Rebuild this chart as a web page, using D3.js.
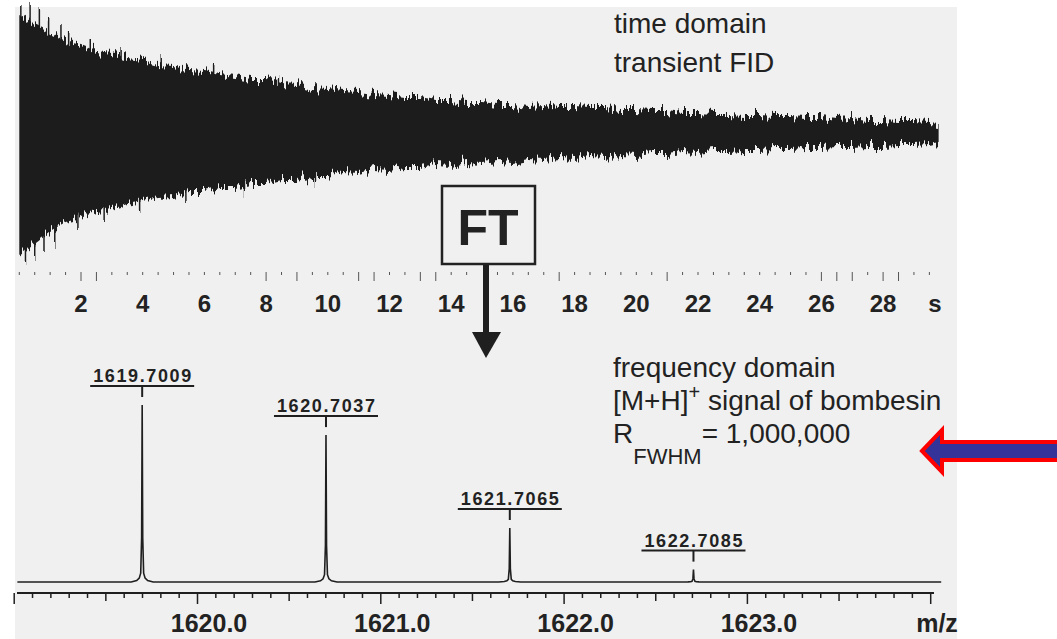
<!DOCTYPE html>
<html>
<head>
<meta charset="utf-8">
<script src="https://d3js.org/d3.v7.min.js"></script>
<style>
    body { margin: 0; background: #ffffff; }
    svg text { font-family: "Liberation Sans", Arial, sans-serif; fill: #222; }
</style>
</head>
<body>
<script>
    // ---- time domain transient (FID), envelope read every 0.5 s ----
    var fidTime = [0, 0.5, 1, 1.5, 2, 2.5, 3, 3.5, 4, 4.5, 5, 5.5, 6, 6.5, 7, 7.5, 8, 8.5, 9, 9.5,
        10, 10.5, 11, 11.5, 12, 12.5, 13, 13.5, 14, 14.5, 15, 15.5, 16, 16.5, 17, 17.5, 18, 18.5, 19, 19.5,
        20, 20.5, 21, 21.5, 22, 22.5, 23, 23.5, 24, 24.5, 25, 25.5, 26, 26.5, 27, 27.5, 28, 28.5, 29, 29.5, 29.8];
    var fidUpper = [118, 108, 100, 92, 88, 82, 80, 75, 73, 69, 68, 63, 62, 59, 57, 54, 54, 50, 49, 45,
        44, 42, 41, 39, 38, 36, 36, 33, 33, 31, 31, 29, 29, 27, 28, 26, 26, 25, 25, 23,
        23, 22, 22, 20, 20, 19, 19, 18, 18, 17, 17, 16, 16, 14, 15, 13, 13, 12, 12, 11, 10];
    var fidLower = [-122, -110, -98, -89, -85, -78, -76, -71, -68, -64, -63, -59, -59, -55, -55, -51, -51, -47, -47, -43,
        -43, -39, -40, -36, -37, -34, -34, -31, -32, -29, -30, -28, -29, -26, -27, -25, -26, -24, -25, -22,
        -23, -21, -21, -19, -20, -18, -18, -17, -17, -16, -16, -15, -15, -14, -14, -13, -13, -12, -12, -11, -9];
    // individual spikes sticking out of the envelope
    var spikeTime = [0.05, 0.2, 0.35, 0.5, 0.65, 0.8, 0.95, 1.15, 1.35, 1.6, 1.9, 2.3, 2.75, 3.3, 3.9, 4.6,
        5.4, 6.3, 7.3, 8.4, 9.6];
    var spikeAmp = [128, -130, 127, -124, 124, -118, 116, -112, 108, 104, -100, 94, -90, 86, -80, 76,
        -70, 68, -62, 58, -53];
    var timeLabels = [2, 4, 6, 8, 10, 12, 14, 16, 18, 20, 22, 24, 26, 28];
    var timeMinor = [0, 0.5, 1, 1.5, 2, 2.5, 3, 3.5, 4, 4.5, 5, 5.5, 6, 6.5, 7, 7.5, 8, 8.5, 9, 9.5,
        10, 10.5, 11, 11.5, 12, 12.5, 13, 13.5, 14, 14.5, 15.5, 16, 16.5, 17, 17.5, 18, 18.5, 19, 19.5,
        20, 20.5, 21, 21.5, 22, 22.5, 23, 23.5, 24, 24.5, 25, 25.5, 26, 26.5, 27, 27.5, 28, 28.5, 29, 29.5];
    var timeLong = [2, 2.5, 8, 9, 11, 11.5, 13, 13.5, 17.5, 21, 26, 26.5, 27, 28, 28.5];

    // ---- frequency domain: [M+H]+ isotope peaks ----
    var peakMz = [1619.7009, 1620.7037, 1621.7065, 1622.7085];
    var peakLabels = ["1619.7009", "1620.7037", "1621.7065", "1622.7085"];
    var peakHeight = [100, 83, 30.5, 7];
    // shape of one peak (offset in m/z, fraction of height)
    var profileOffset = [-0.06, -0.03, -0.016, -0.008, -0.003, 0, 0.003, 0.008, 0.016, 0.03, 0.06];
    var profileFrac = [0, 0.008, 0.022, 0.05, 0.25, 1, 0.25, 0.05, 0.022, 0.008, 0];
    var mzLabels = [1620, 1621, 1622, 1623];

    var width = 1057, height = 639;
    var svg = d3.select("body").append("svg")
        .attr("width", width)
        .attr("height", height);

    // texture filter: roughens the edge of the envelope like the dense oscillation
    var defs = svg.append("defs");
    var flt = defs.append("filter").attr("id", "rough")
        .attr("x", "-2%").attr("y", "-10%").attr("width", "104%").attr("height", "120%");
    flt.append("feTurbulence")
        .attr("type", "fractalNoise")
        .attr("baseFrequency", "0.45 0.004")
        .attr("numOctaves", 2)
        .attr("seed", 7)
        .attr("result", "noise");
    flt.append("feColorMatrix")
        .attr("in", "noise")
        .attr("type", "matrix")
        .attr("values", "0 0 0 0 0.5  0 1 0 0 0  0 0 0 0 0  0 0 0 0 1")
        .attr("result", "noiseY");
    flt.append("feDisplacementMap")
        .attr("in", "SourceGraphic")
        .attr("in2", "noiseY")
        .attr("scale", 22)
        .attr("xChannelSelector", "R")
        .attr("yChannelSelector", "G");

    // grey panel
    svg.append("rect")
        .attr("x", 15).attr("y", 7)
        .attr("width", 942).attr("height", 632)
        .attr("fill", "#f0f0f0");

    // ---------- top: FID ----------
    var xTime = d3.scaleLinear().domain([0, 30]).range([19.3, 944.8]);
    var yFid = d3.scaleLinear().domain([-130, 130]).range([263, 3]);

    var fidData = fidTime.map((t, i) => ({ t: t, hi: fidUpper[i], lo: fidLower[i] }));
    var area = d3.area()
        .x(d => xTime(d.t))
        .y0(d => yFid(d.lo))
        .y1(d => yFid(d.hi));

    var fid = svg.append("g").attr("filter", "url(#rough)");
    fid.append("path")
        .datum(fidData)
        .attr("d", area)
        .attr("fill", "#1f1f1f");

    fid.append("g")
        .selectAll("line")
        .data(spikeTime.map((t, i) => ({ t: t, a: spikeAmp[i] })))
        .join("line")
        .attr("x1", d => xTime(d.t)).attr("x2", d => xTime(d.t))
        .attr("y1", yFid(0))
        .attr("y2", d => yFid(d.a))
        .attr("stroke", "#1f1f1f")
        .attr("stroke-width", 1.5);

    // time axis ticks (no axis line in the original)
    svg.append("g")
        .selectAll("line")
        .data(timeMinor)
        .join("line")
        .attr("x1", d => xTime(d)).attr("x2", d => xTime(d))
        .attr("y1", 272)
        .attr("y2", d => timeLong.indexOf(d) >= 0 ? 281 : 275)
        .attr("stroke", "#555")
        .attr("stroke-width", 1);

    svg.append("g")
        .selectAll("text")
        .data(timeLabels)
        .join("text")
        .attr("x", d => xTime(d))
        .attr("y", 312)
        .attr("text-anchor", "middle")
        .attr("font-size", 24)
        .attr("font-weight", "bold")
        .text(d => d);

    svg.append("text")
        .attr("x", 935).attr("y", 312)
        .attr("text-anchor", "middle")
        .attr("font-size", 24)
        .attr("font-weight", "bold")
        .text("s");

    svg.append("text").attr("x", 614).attr("y", 33)
        .attr("font-size", 28).text("time domain");
    svg.append("text").attr("x", 614).attr("y", 72)
        .attr("font-size", 28).text("transient FID");

    // FT box and arrow
    svg.append("rect")
        .attr("x", 442).attr("y", 186)
        .attr("width", 93).attr("height", 78)
        .attr("fill", "#f0f0f0")
        .attr("stroke", "#222")
        .attr("stroke-width", 2.5);
    svg.append("text")
        .attr("x", 488).attr("y", 245)
        .attr("text-anchor", "middle")
        .attr("font-size", 50)
        .attr("font-weight", "bold")
        .text("FT");
    svg.append("line")
        .attr("x1", 486).attr("x2", 486)
        .attr("y1", 265).attr("y2", 334)
        .attr("stroke", "#1f1f1f")
        .attr("stroke-width", 6);
    svg.append("path")
        .attr("d", "M472,332 L501,332 L486,358 Z")
        .attr("fill", "#1f1f1f");

    // ---------- bottom: mass spectrum ----------
    var xMz = d3.scaleLinear().domain([1619, 1624]).range([13.7, 930.2]);
    var yInt = d3.scaleLinear().domain([0, 100]).range([582, 405]);

    var spec = [{ mz: 1619.02, v: 0 }];
    peakMz.forEach((m, i) => {
        profileOffset.forEach((o, j) => spec.push({ mz: m + o, v: peakHeight[i] * profileFrac[j] }));
    });
    spec.push({ mz: 1624.06, v: 0 });

    svg.append("path")
        .datum(spec)
        .attr("d", d3.line().x(d => xMz(d.mz)).y(d => yInt(d.v)))
        .attr("fill", "none")
        .attr("stroke", "#1f1f1f")
        .attr("stroke-width", 1.6);

    // peak labels with underline and marker
    var lab = svg.append("g")
        .selectAll("g")
        .data(peakMz.map((m, i) => ({ mz: m, h: peakHeight[i], label: peakLabels[i] })))
        .join("g");
    lab.append("text")
        .attr("x", d => xMz(d.mz) - 49)
        .attr("y", d => yInt(d.h) - 23)
        .attr("font-family", "'DejaVu Sans Condensed', 'DejaVu Sans', sans-serif")
        .attr("font-weight", "bold")
        .attr("font-size", 18)
        .attr("textLength", 98)
        .attr("lengthAdjust", "spacing")
        .text(d => d.label);
    lab.append("line")
        .attr("x1", d => xMz(d.mz) - 52)
        .attr("x2", d => xMz(d.mz) + 52)
        .attr("y1", d => yInt(d.h) - 19)
        .attr("y2", d => yInt(d.h) - 19)
        .attr("stroke", "#1f1f1f")
        .attr("stroke-width", 2);
    lab.append("line")
        .attr("x1", d => xMz(d.mz)).attr("x2", d => xMz(d.mz))
        .attr("y1", d => yInt(d.h) - 19)
        .attr("y2", d => yInt(d.h) - 8)
        .attr("stroke", "#1f1f1f")
        .attr("stroke-width", 2);

    // m/z axis
    var axis = d3.axisBottom(xMz)
        .tickValues(d3.range(0, 51).map(k => 1619 + k / 10))
        .tickSize(5)
        .tickFormat("");
    var ax = svg.append("g")
        .attr("transform", "translate(0,593)")
        .call(axis);
    ax.select(".domain")
        .attr("d", "M17,0H934")
        .attr("stroke", "#1f1f1f")
        .attr("stroke-width", 1.8);
    ax.selectAll(".tick line")
        .attr("stroke", "#1f1f1f")
        .attr("stroke-width", 1.5)
        .attr("y2", d => {
            var f = Math.round((d - 1619) * 10);
            return f % 10 === 0 ? 11 : (f % 5 === 0 ? 8 : 5);
        });

    svg.append("g")
        .selectAll("text")
        .data(mzLabels)
        .join("text")
        .attr("x", d => xMz(d) + 12)
        .attr("y", 632)
        .attr("text-anchor", "middle")
        .attr("font-size", 25)
        .attr("font-weight", "bold")
        .text(d => d.toFixed(1));
    svg.append("text")
        .attr("x", 937).attr("y", 632)
        .attr("text-anchor", "middle")
        .attr("font-size", 25)
        .attr("font-weight", "bold")
        .text("m/z");

    // annotation text
    svg.append("text").attr("x", 613).attr("y", 377)
        .attr("font-size", 28).text("frequency domain");
    var t2 = svg.append("text").attr("x", 613).attr("y", 410).attr("font-size", 28);
    t2.append("tspan").text("[M+H]");
    t2.append("tspan").attr("dy", -11).attr("font-size", 20).text("+");
    t2.append("tspan").attr("dy", 11).text(" signal of bombesin");
    var t3 = svg.append("text").attr("x", 613).attr("y", 443).attr("font-size", 28);
    t3.append("tspan").text("R");
    t3.append("tspan").attr("dy", 21).attr("font-size", 22).text("FWHM");
    t3.append("tspan").attr("dy", -21).text("= 1,000,000");

    // red-outlined blue arrow pointing at the resolution
    svg.append("path")
        .attr("d", "M922,451 L942,430 L942,442 L1060,442 L1060,460 L942,460 L942,472 Z")
        .attr("fill", "#333399")
        .attr("stroke", "#ff0000")
        .attr("stroke-width", 4)
        .attr("stroke-linejoin", "miter");
</script>
</body>
</html>
